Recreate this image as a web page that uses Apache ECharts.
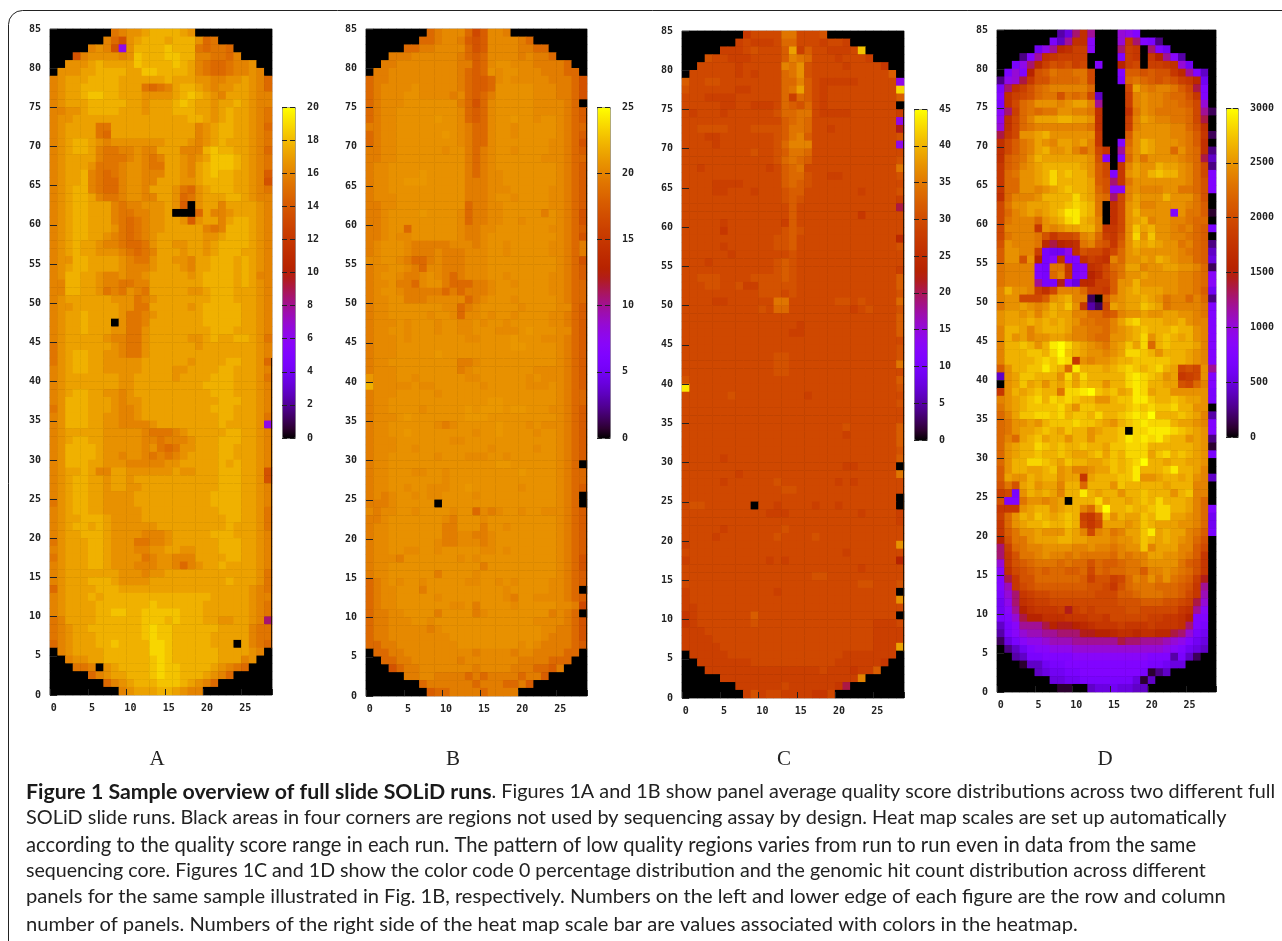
<!DOCTYPE html>
<html>
<head>
<meta charset="utf-8">
<style>html,body{margin:0;padding:0;background:#fff}#c{width:1282px;height:941px}</style>
<script src="https://cdn.jsdelivr.net/npm/echarts@6/dist/echarts.min.js"></script>
</head>
<body>
<div id="c"></div>
<script>
// Each string is one row of panels, top row (84) first; 29 columns.
// Each character is a colour level (0 = black ... z = top of the scale).
const levelKey = "0123456789abcdefghijklmnopqrstuvwxyz";
const scaleMaxA = 20, scaleMaxB = 25, scaleMaxC = 45, scaleMaxD = 3000;
const scaleStepA = 2, scaleStepB = 5, scaleStepC = 5, scaleStepD = 500;
const columns = Array.from({length: 29}, (_, i) => String(i));
const rowsLabels = Array.from({length: 85}, (_, i) => String(i));
const panelNames = ["A", "B", "C", "D"];
// Panel B varies very little, so its main levels are closer together.
const panelBFineValues = {r: 19.7, s: 20.3, t: 20.7, u: 21.0};

const panelA = [
// 84
"00000 000rs ttuvv vvut0 00000 0000","00000 00sqo tuvvv uvvvt qr000 0000","00000 stsob tvvvv wvvvr qrrq0 0000","000os tttts twvvv wwvvs srrqs 0000","00ttt uvuuu uwvvv vwvus rqqrs st00",
// 79
"0tttu uvvvv uuwwv vvvus rqqrs sts0","stuuu vvvvu uuuuu vuuut tsstt utsq","stuuv vvvvu uurqr suvvu tsttu utsq","stuuv wwvvu uuttt tuvwv utsuu utss","stuuu vvvvv uutuu uvwvu utuuv utss",
// 74
"ssttu vvvvu uutuu uvvvu utuvu utsr","sttuu uuuuu uuuuu uuuvv utuvu utsr","stuuu urruu uuuuu uuuus tuvvu utsq","stuuu urquu uuuuu uuuus tuvvu utsr","stuvv utstt ttttt uuuts tuvuu utsr",
// 69
"stuvv usrrs stssu uusss vwvvu utsq","stuuu usrrr stsrs uutst uwwwv utsr","stuuu trrrs ttsrr uutsu vwwwv utsr","stuuv srqrs ttsss uutsu vwvvu utsp","stuuv srqqs ttssu uuttu vvvvu utso",
// 64
"stuvv srqqs ttsuu utrqt uvvvu utsr","stuvv usrrs ttssu utqrt uuuvv utss","stuvv uuusr ssttt utp0t uusuu uuts","stuvv uuusr rsstt u000q usstu uuts","stuvv uuusr qrstt uutpt uusuv vuts",
// 59
"stuvv uuutr qrstt uuuuu srsvv vuts","stuvv uutsr qrstu uuuuu ttuvv vuts","stuvu utssr qqrtu uttuu tuvvv vuts","stuvu uttts rqrsu uutuu tuvvv uuts","sttvv uuuut srrtu uttsu uvvvu vuts",
// 54
"stuvv uuuut ssstu uutsu uvvvu vuts","stvvu utsst sstuu uuutu vvvvu vuss","ssvvu utssr rssuu uuuuu vvvvu vuts","ssvvu utrsr tsruu uuutt uvvvu uuts","stuuu uuutt trstu uuuuu uvvvu uuts",
// 49
"sttuu uuuut trruu uuutu vvvvv uuts","stuuv uuuut rrstu uuuuu vvvvv uuts","stuuv uuu0t rrsuu uuuuu vvvvv uuts","stuuv uuutt rrtuu uuuuu uvvvu uuts","stuuu uutss rrtuu uuutt uvuuv vutr",
// 44
"rtuuu uuuts rrtuu uuuut uuuuu uuts","rtuvv uutts rrtuu uuuuu uuuuu uuts","rtuvv uuttt ttuuu uuutu uuuvv uutq","stuvv uuttt ttuuu uttuu uuvvu uuts","stuuu uuuut tuuuu utuuu uvvvu uutr",
// 39
"stuuu uuuut tuuuu uuuuu vvvvu uuts","stuvv uutts tuuuu uuuuu uvvvu uuts","stvvv uuuts ttuuu uuuuu uuvvv uuts","rtvvv uuuts stuuu uuuuu uvvvu uuts","stvvv uutts stuuu uuuuu uuvvu uutr",
// 34
"stvvv uutts ssstu uuuuu uuvuu uutb","stuuu uuttt ttsrr rstuu uuuvv uuts","stuvv uuttt ttssr ssstu uuvvv uuts","stvvv vuttt ttstr qrttu uuvvu uuts","stvvv vutts ttsrs rstuu uuvvu uuts",
// 29
"stvvv uuttt sssss ttuuu uuvuv uuts","stuuv ussuu ttttt tuttu uuvvv uuto","stuvv uutuu tuuuu uuuuu uuvvv uuto","stuvv uutuu ttuuu uuuuu uuvvv uuts","stuvv uuttt tuuuu uuuuu uvvvv uuts",
// 24
"rtuvv uuttt tuuuu uuuuu uvvvv uuts","stuvv uuttt ttuuu uuuuu uuvvv uutr","stuuv vvutt ttuuu uuuuu uuuvv uutr","stuvv uvutt ttttu uuuuu uuuvu uutr","stuuv vvutt ttsss tuuuu uvvvu uuts",
// 19
"rtuuu vvutt trrss tuuuu uuvvv uuts","stuuu vvutt tsstt uuttu uuvvv uuts","rtuuu vvutt ttrst tsssu uuuvv uuts","stuuu vvutt tssst tsqst uuvuu uuts","stuuu uuuut ttstt uuuuu uuuuu uutr",
// 14
"stuuu vvvut tttuu uuuuu uuuvu uutr","qtuuu uvvvu uuuuu uuuuu uuuuu utsr","stuuu vuvvv vvvvv vvvvv vuuuu utss","stuuu uvvvv vvvwv vvvvv uuuuu utsr","stuuu uvvww vvwww wwvvv uuuuu utsr",
// 9
"rsuuu uvvvv vvwww vwvvv uuttu utsf","rstuu vvvvv vvwxw wvvvv vvuuu usrr","rstuu uvvvv vvwxw wvvvv vuuuu usrr","qstuu uvvwv vvvxx wvvvv vuuu0 usrq","0stuu uuvvv vvvxx wvvvv vvuuu uts0",
// 4
"00stt uuvvv vvvwx wvvvv vvuuu st00","000rr s0tuv vvvwx wwvvv vutsr q000","00000 qstuu vvvwx wwvvv utsq0 0000","00000 00qst uvvvw wwvut sq000 0000","00000 0000s tuuuv vutss 00000 0000"
];

const panelB = [
// 84
"00000 000qr sssqn pssr0 00000 0000","00000 00qqr ssrpo pssss rq000 0000","00000 qqrrs sssqo pssss rrqq0 0000","000rr rssss ssrqp qssss rsrrq 0000","00rrs sssss ssrrp qstts ssrrr rq00",
// 79
"0rrss sssss ssrqp qtstt sssrr rqq0","qrrss sssss ssrqp pqsts ssssr rrqo","qrsss stsss ssrqp pqttt ttsss rrqo","qrsss ttsss srsqp qrttt ttsss rrqo","qrsss ttttt ttrqo qsttt ttsss srq0",
// 74
"qrsst ttttt ttsqp qsttt ttsss srqp","qrsst ttttu ttsqp qsttu ttstt srqp","rrsst ttttt ttsrq qstts ttttt srqq","qrsst ttttt utsrq qstts ttttt srqp","qrsst ttttt ttsrq qsttt tttts srqo",
// 69
"rrsst ttttt sttrq rstts tttts srqp","rrsst ttttt tttrq rsttt tttss srqq","rsstt ttttt tttrq rsttt ttttt srqp","rsstt ttutt tttrq rsstt ttttt srqp","rsstt uuutt tttrr rsstt ttttt srqp",
// 64
"rsstt ttttt tttrr rssst tttts srqp","rssst ttttt tttrr rstts tttts srqp","rrsst ttttt tttqr rsstt tttts srqp","rrstt ttutt ttsqr rsstt tttrt srqo","rrstt ttttt ttsqr rsstt stttt srqo",
// 59
"rrstt qtttt ttsrr ssttt tttts srqp","rrsts stttt ttsrr stttt ttttt srqo","rsttt srrrr rsssr sttst tttts srqr","rsttt srrrs rrrss sttst tttts srqr","sstts rqqrs rrrss stttt ttttt srqo",
// 54
"rsstt srqss rrrss stttt ttttt srqp","rstts rrsts rqrss sttst tttts srqp","rsstr rqstt rqqqr rstts tttts srqq","rstts rrrrr qrqrr rsttt tttts srqq","rsstt rrrss sssqr sttts ttttt srqq",
// 49
"rsstt ttttt ssqrs ttttt stttt ssqp","rsstt tttst tsqss tstts tttts srqp","rssst sttts ttsst sttst tttts srqp","rsstt sttts ttsst ttsss tuttt ssqp","rssst stttt tttss ttttu tttss srqp",
// 44
"rssst ttttt ttttt ttttu utttt srqp","rssst ttttu ttttt ttttt ttttt srqp","rsstt ttttt ttrrs ttttt ttttt srqp","rssst ttttt ttrst ttttt ttsss srqp","ussst tsttt tttss ttttt tstss srqp",
// 39
"vssss stsst ttttt stttt tssst srqp","rssst tttts ttttt ttttt ttttt srqq","rsstt ttttt ttttt tuutt ttttt srqq","rsstt ttstt tttut uuutu uttts srqp","rssst utttt tttuu utttt ttttt srqp",
// 34
"rsstt tttts rsttt ttutt tstss srqp","rsstt utttt tttts ttutt ttstt srqp","rssst ttttt tsstt ttttt ttttt srqp","rssst tsttt ttttt tsttt ttstt srqp","rsstt tttts tttss sttst ttttt srqp",
// 29
"rsstt ttttt ttttt ttuut ttttt srq0","rsstt tsstt stttt ttttt utttt srqq","rsstt ttttt stttt ttttt ttttt srqq","rsstt sttss sttut ttttt stttt srqp","rsrst tstss tttts ttttt ttttt srq0",
// 24
"rrrst tttt0 ttttt ttttt ttttt srq0","srsst tsttt tsttq srstt sttss srqp","rrstt ttttt srttt stttt ttttt srqp","rsstt ttttt rrttt rttst ttttt srqp","rsstt ttttt rrssr rsttt ttttt srqp",
// 19
"rsstt tttts rrsss rsttt ttttt srqp","rsstt sstts ttttt sstst ttttt srqp","rsssr ttttt ttsts ttttt ttttt srqo","rsstt ttttt ttttt rtttt ttttt srqo","rsstt ttttr tttts ttttt ttttt srqp",
// 14
"qrsts ttstt tttss ttsts tttts srqp","qrsst ttrtt ttttt tttst tttts srq0","qrsst tttts ttttt tttsr ttsss srqp","qrsst ttttt tsstr tttts ttttt ssrn","qrrss ttttr ttttr stttt ttttr srq0",
// 9
"qrrss sttst ttttt ttttt ttsss srqo","qrrss sssrs ttttt ttttt tttss rrqo","qrrss sssss stttt ttttt tttsr rrqo","qqrrs sssss ssttt ttttt stsrr rrqp","0qqrr sssss ssssr ssssr ssrrr rqq0",
// 4
"00qqr rssss ssrss sssss rrrrq qq00","000oq rrsss ssssr ssssr rrqqp r000","00000 rrssr rrrqr qrrrr qrrp0 0000","00000 00qrr rrrrq rrrqq rp000 0000","00000 000pq qrrrr qrrrr 00000 0000"
];

const panelC = [
// 84
"00000 000ln nnnrr nnno0 00000 0000","00000 00mnm mmnqq nnnmn nm000 0000","00000 mmmno nnnpu mpnnm mmnw0 0000","000on nmmmn nnnps rqnnn mnnnm 0000","00nnn nnmnn nnnsr tonnn nmnnn nl00",
// 79
"0nnnn nnmnm nnnqr tonnn nnnnn nnp0","pnnoo nnnnn nnnqq spnmm mmmnn nnnb","onnnn nnmmn nnnqr upnmn nnnnn nnnx","nnnmm mmnnn nnnqm qpnmn nnnnn nnnp","nnnnn mmnnm mmnqp oqnmn nnnnn nnn0",
// 74
"nmnnn mnnnn nnoqq rrnmm mmnnn nnnm","nnnnn nnnnn nnnpq rqnnn nnnnn nnnb","nnooo onnno ooopr rqnnm nnnnn nnnh","nnnmm nnnnn nnopr spnnn nnnnn nnno","nnnnm nnnnn nnoqs ssnnn nnnnn nnnb",
// 69
"nnnnn nnnno nnopr rqnnn nnnnn nnnn","nnnnn nnnnn nnoqr qpnnn nnnnn nnno","nnmnn nnnnn nmnpq rnnnn nnnnn nnnr","nnnnn nnnnn nnnpq qonnm mnnnn nnno","nnnnm mmmnn nnnpq ponnn nnnnn nnnn",
// 64
"nnnnm mnnnm nnnop pnnnn nnnmn nnno","nnnnn nnnnn nnnop onnnn nnnnn nnnm","nnnnn nnnnn nnnnp nnnnn nnnnn nnng","nnnnn nnnnn nnnnp nnnnn nnnln nnnn","nnnnn mnnnn nnnmp nnnnn nnnnn nnnn",
// 59
"nnnnn lnnnn nnnop onnnn nnnnn nnnn","nnnnn nnnnn nnoop nnnnn nnnnn nnnj","nnnnn mnnnn nnoop nnnnn nnnnn nnno","nnnnn nmnnn nnnno nnnnn nnnnn nnnn","nnnmn nnnnn nnopo nnnnn nnnnn nnnn",
// 54
"nnnnn nnnnn nnopo nnnnn nnnnn nnnm","nnooo nnnno ooopo nnnnn nnnnn nnnp","nnnoo nnomm ooooo nnnnn nnnnn nnnp","nnnnn nnnnn ooono nnnnn nnnnn nnno","nnnnm mnnnn nnrrn nnnnn oonon nnnq",
// 49
"nnnnn nnnnn onqqn nnnnn nnmno nnno","nnnnn nnnnn nnnnn nnnnn nnnnn nnnp","nnnnn nnnnn nnnnn mnnnn nnnnn nnnp","nnnnn nnnnn nnnnm mnnnn nnnnn nnnp","nnnnn nnnnn nnnnn nnnnn nnnnn nnnn",
// 44
"nnnnn nnnnn nnnnn nnnnn nnnnn nnno","nnnnn nnnnn nnoon nnnnn nnnnn nnno","nnnnn nnnnn nnoon nnnnn nnnnn nnnr","nnnnn nnnnn nnoon nnnnn nnnnn nnnn","onnnn nnnnn nnnnn nnnnn nnnnn nnnp",
// 39
"ynnnn nnnnn nnnnn nnnnn nnnnn nnno","nnnnn nonnn nnnnn nmnnn nnnnn nnnn","nnnnn nnnnn nnnnn nnnnn nnnnn nnno","nnnnn nnnnn nnnnn nnnnn nnnnn nnnn","nnnnn nnnnn nnnnn nnnnn nnnnn nnnn",
// 34
"nnnnn nnnnn nnnnn nnnnn nonnn nnnp","nnnnn nnnnn nnnnn nnnnn nmnnn nnnp","nnnnn nnnnn nnnnn nnnnn nnnnn nnnp","nnnnn nnnnn nnnnn nnnnn nnnnn nnno","nnnnn mnnnn nnnnn nnnnn nnnnn nnnp",
// 29
"nnnnn nnnnn nnnnn nnnnn nmmnn nnn0","nnnnn nnmnn nnnnn nnnnn nnnnn nnnr","nnnnn mnnnn nnonn nnnnn mnmnn nnnn","nnnnn nnnnn nnnoo nnnnn nnnnn nnnn","nnnnn nnnnn nnnnn nnnnn nnnnn nnn0",
// 24
"noonn nnnn0 nnmnn nnmnn mnnnn nnn0","nnnnn nnnnn nmmmn nnnnn nnnmn nnnm","nnnnn nnnnn nnnnn nnnnn nnnnn nnnm","nnnnn mnnnn nnnon nnnnn nnnnn nnnn","nnnnm nnnnn nnonn nnonn nnnnn nnnn",
// 19
"mnnnn nnnnn nnnnn nnnnn nnnnn nnnt","nnnnn nnnnn nnnnn nnnnn nmnnn nnnn","mnnnn nnnnn nmnmn nnnnn nnnnn nnni","nnnnn nnnnn nnnnn nnnnn nnnmn nnnn","nnnnn nnnnn nnnnn nnoon nnnnn nnnn",
// 14
"nnnnn nnnnn nnnnn nnnnn nnnoo nnno","mnnnn nnnnn nnmnn nnnnn nnnnn nnn0","mnnnn nnnnn nnnnn nnnnn nnnnn nnnt","mmnnn nnnnn nnnnn nnnnn nnnnn nnnn","lmnnn nnnnp nnnnn nnnnn nnnnn nnn0",
// 9
"lmnnn nnnno nnnnn nnnnn nnnnn mmmn","mmmnn nnnnn nnnnn nnnnn nnnnn mmmm","mmmmn nnnnn nnnnn nnnnn nnnnn mmmm","mmmmm nnnnn nnnnn nnnnn nnnnn mmmu","0mmmm mnnnn nnnnn nnnnn nmmmm mmm0",
// 4
"00mmm mmmmn nnnnn nnnnn mmmmm ml00","000mm mmmmm mmmmm mmmnm mmlmm p000","00000 mmmmm mmmmm mmmmm mmms0 0000","00000 00mmm mmmnm mmmmm lg000 0000","00000 000mo mnnmm mmlln 00000 0000"
];

const panelD = [
// 84
"00000 00046 fke00 0cb90 00000 0000","00000 0085e kka00 0clf9 83000 0000","00000 7bejk mma00 0fml0 f9700 0000","00039 eklmm mm000 09ml0 liea4 0000","008bf jmono mn090 0imn0 mmlkc 7000",
// 79
"08c9i oprqq rrn00 09ppo poolj e950","3bcgl ooqqq qrn00 08qrq popom lj70","8fkmo qrsss ssq00 00nus rssrp ng90","9kmno qrror qrn50 00mst ssrqq ol90","8knqr tttst uuse0 00mst ssrrq pnc0",
// 74
"afmqr qrrtt ssrk0 00krt srrrr qne2","bknqs uuuvv uutk0 00msu tssrr qng0","cknqr sssss ssrk0 00mst tttss qok0","glntt uvttt tttl0 00ptt tttss rpl2","knprs utsuu tusl0 09qtv uttts rpk0",
// 69
"knprs uvttu sqsnl 0ertv uttqt rqk3","kpqrt vuuuu uuto9 09qtr tttts rqg5","lpqst uvvvv vutpn 0lsut tvuut sqn3","lqrtt uvxvw vvtpn 9ltut vwvvt sqn9","lqqtt uvxvv vvupo flrtt ttttt sqo9",
// 64
"lqqtt stuvw vvuqo aasts ssttr rqo9","kqsss tvvvv xvurq fnsut ttvtt tro0","nrttu uuvvw xwvr0 kntus stttt srp0","nqstu tuvwy ywvr0 kntvt ttt9t rrp1","nrsss qtuvx yvus0 kntuv sttss rqq0",
// 59
"nssss ltstu uvvsl lntwu vttsr sqp8","nrsss rolnn ostqm lotxt wttss rqp0","otsss rjgij krspo lptvu vuttr sqp3","pttss m877b konnl nqtut tttts rqp5","pttot i8ak9 9kmlk sqttu tvuts sqp6",
// 54
"rssss 98rrl 8akln qruus ttuut tsq2","rssss 98qsl 8aikn prttu tttts srqa","rssss e88h9 6jjmm pttvt tttts srqa","svtts mknss sqmml ptuvu uutts srp7","sttnn nptuv ss20p stuuv utrss qsq3",
// 49
"rttut stvuw tl42n utuuw vurss ssr9","tuutu suvuu ssqqo psttu ttuut tsr9","tuuuv uvuvu trrqq suwxv vvuuv tss9","svvus uvvvu ssrrq stuvw vvvwv vts9","svtus ttuut ssrqq ttuvx tvwvu vts9",
// 44
"svvwv tvyzx vutsr tuwux qvwvv vus9","svvvw wvxzw vutts tuxxw vtvvv uts9","svvvv wxwyx ltstt uvvww wwwvv uts9","ptvvw wywvq yvvvu vwxwv wxvun onte","5tuww vvvtx uxvvv vvxyx wvtul mnt9",
// 39
"0tuwu vtvuw uwvvt vvxyx vvuuo nqs9","ltvuv wvvrx xyzwv wuvyx uvvtt ttt8","stuvw xvxwx wvvtt vwwyy wvvwv uut8","rtuvw wwwxv twwvv vvwxw xwwxv vtt0","qsuww xxwxv wwvxv vwxyx zvvvw vus4",
// 34
"qrttu tvwww xwwvu tvwxy xxxvu uts9","qrtuu vwvuw vvtuv vw0xx yyyxw vut9","qsquv wuvvt vvtvv vwyxy xywvv tut3","qtuvv xwvwv vwvvu wwxxx vvvvv vut1","qtuvv wvvwv uuvwu wvxxx uwxvw vut8",
// 29
"qtvvx xwvuw vvuuv wvwxz vvuvv uut0","ptvvu uvwtu sstuu wvwyv vvwyv vus0","puttv uvvtu uluvv vwwyt tuvvu vts5","orouv tuusv vqvvv twvvv vvuvv vss0","mn8tv uvusv vyvuv vtvvw vvvtv wss0",
// 24
"o99rt tstu0 vvvxu vvuvw vxvvv usq0","llltu vvtuv vsqvz vvwvv wxxvv usq9","mqtvu wvuvw vmlow tvuuw vxxuu tsq7","lqtuv vwvvw vnlnu uutuw vuuut tsq7","lprtt utttv usnst rsuuw yuvuu srp8",
// 19
"iorrt uuuvv uuttt sttuw vuvut sqo0","fmqrs stttt sstss rsttw suuus spn0","florr stssr srrrr qsrss uutts rpl0","clopq rrrqr qqoqp pqrrs ttttr pol0","aknop qpqqp pqnqp qqrrp sstsr qol0",
// 14
"9gloo qqqqq qpmoo mnqsr trtrq pmh0","9dlno ppppp ppoon loqrr rqqqp ole0","8cflm nnooo ooonn nppqr rrqqp nld0","7bfkl mmnnn nnnnn nooop ppoon mgc0","7aeik lllmh mnmnn nnoon nnnnl kea0",
// 9
"89cgi ikkkl llmml nnnnn mmllk i990","58aee egihh ijkll lmlll mlllk f980","48acd deeff fhhii jkkjk kjjgf c870","268ab bcddd eeeee egffe eedcb 9760","03579 aabbb ccccc ccccc ccba9 7650",
// 4
"00458 89999 aaaaa aaaaa 99948 5200","00015 57889 99999 99999 88766 0000","00000 56778 89999 99998 13500 0000","00000 00667 78888 88861 50000 0000","00000 00011 00566 76655 00000 0000"
];

const captionBold = "Figure 1 Sample overview of full slide SOLiD runs";
const captionLines = [
  ". Figures 1A and 1B show panel average quality score distributions across two different full",
  "SOLiD slide runs. Black areas in four corners are regions not used by sequencing assay by design. Heat map scales are set up automatically",
  "according to the quality score range in each run. The pattern of low quality regions varies from run to run even in data from the same",
  "sequencing core. Figures 1C and 1D show the color code 0 percentage distribution and the genomic hit count distribution across different",
  "panels for the same sample illustrated in Fig. 1B, respectively. Numbers on the left and lower edge of each figure are the row and column",
  "number of panels. Numbers of the right side of the heat map scale bar are values associated with colors in the heatmap."
];

// Gnuplot's default pm3d palette (rgbformulae 7,5,15), one stop per level.
function pm3d(f) {
  const h = v => Math.round(255 * Math.max(0, Math.min(1, v))).toString(16).padStart(2, "0");
  return "#" + h(Math.sqrt(f)) + h(f * f * f) + h(Math.sin(2 * Math.PI * f));
}
const palette = levelKey.split("").map((_, i) => pm3d(i / 35));

function decode(rows, max, fine) {
  const out = [];
  rows.forEach((r, i) => {
    const s = r.replace(/ /g, "");
    for (let c = 0; c < 29; c++) {
      const ch = s[c] || "0";
      const lv = Math.max(0, levelKey.indexOf(ch));
      const v = fine && fine[ch] !== undefined ? fine[ch] : lv / 35 * max;
      out.push([c, 84 - i, v]);
    }
  });
  return out;
}

const panels = [
  {rows: panelA, max: scaleMaxA, step: scaleStepA, g: [50, 29, 222, 666], b: [282, 107, 13, 331], edge: [358, 649]},
  {rows: panelB, max: scaleMaxB, step: scaleStepB, g: [366, 29, 221, 667], b: [597, 107, 13, 331], fine: panelBFineValues, edge: [108, 650]},
  {rows: panelC, max: scaleMaxC, step: scaleStepC, g: [682, 31, 222, 667], b: [914, 109, 13, 331], edge: [108, 652]},
  {rows: panelD, max: scaleMaxD, step: scaleStepD, g: [997, 30, 219, 662], b: [1226, 108, 12, 329]}
];

const tickFont = {fontFamily: "DejaVu Sans Mono", fontWeight: "bold", fontSize: 10, color: "#222"};
const grid = [], xAxis = [], yAxis = [], series = [], visualMap = [];

panels.forEach((p, i) => {
  const gi = grid.length;
  grid.push({left: p.g[0], top: p.g[1], width: p.g[2], height: p.g[3], show: true, borderColor: "#999", borderWidth: 1, backgroundColor: "#000"});
  xAxis.push({
    type: "category", gridIndex: gi, data: columns, z: 5,
    axisLine: {show: false},
    axisTick: {show: true, inside: true, length: 6, interval: 4, lineStyle: {color: "#222"}},
    axisLabel: Object.assign({interval: 4, margin: 8}, tickFont),
    splitLine: {show: false}
  });
  const catY = yAxis.length;
  yAxis.push({type: "category", gridIndex: gi, data: rowsLabels, show: false});
  yAxis.push({
    type: "value", gridIndex: gi, min: 0, max: 85, interval: 5, position: "left", z: 5,
    axisLine: {show: false},
    axisTick: {show: true, inside: true, length: 7, lineStyle: {color: "#222"}},
    axisLabel: Object.assign({margin: 9}, tickFont),
    splitLine: {show: false}
  });
  series.push({
    type: "heatmap", xAxisIndex: xAxis.length - 1, yAxisIndex: catY,
    data: decode(p.rows, p.max, p.fine), progressive: 0, animation: false,
    emphasis: {disabled: true}, silent: true,
    itemStyle: {borderWidth: 0}
  });
  visualMap.push({
    type: "continuous", seriesIndex: i, min: 0, max: p.max, calculable: false, hoverLink: false,
    left: p.b[0], top: p.b[1], itemWidth: p.b[2], itemHeight: p.b[3], padding: 0,
    showLabel: false, text: null, inRange: {color: palette},
    borderColor: "#888", borderWidth: 1
  });
  // scale-bar ticks and labels
  const bi = grid.length;
  grid.push({left: p.b[0], top: p.b[1], width: p.b[2], height: p.b[3], show: false});
  xAxis.push({type: "value", gridIndex: bi, show: false, min: 0, max: 1});
  yAxis.push({
    type: "value", gridIndex: bi, min: 0, max: p.max, interval: p.step, position: "left", z: 6,
    axisLine: {show: false}, splitLine: {show: false}, axisLabel: {show: false},
    axisTick: {show: true, inside: true, length: 5, lineStyle: {color: "#222"}}
  });
  yAxis.push({
    type: "value", gridIndex: bi, min: 0, max: p.max, interval: p.step, position: "right", z: 6,
    axisLine: {show: false}, splitLine: {show: false},
    axisLabel: Object.assign({margin: 12, formatter: v => String(v)}, tickFont),
    axisTick: {show: true, inside: true, length: 5, lineStyle: {color: "#222"}}
  });
});

const capFont = "Lato";
const capBoldSize = 21.3;
const capSizes = [19.8, 19.9, 20.2, 19.6, 20.1, 20.15];
const capY = [792, 818, 845, 871, 897, 924];
const graphic = [
  {type: "rect", silent: true, shape: {x: 8.5, y: 10.5, width: 1300, height: 960, r: [14, 0, 0, 0]}, style: {fill: null, stroke: "#222", lineWidth: 1}, z: -1}
];
panels.forEach(p => {
  if (!p.edge) return;
  const x = p.g[0] + p.g[2] - 0.5;
  graphic.push({type: "line", silent: true, z: 20, shape: {x1: x, y1: p.edge[0], x2: x, y2: p.edge[1]}, style: {stroke: "#2a1400", lineWidth: 1}});
});
[157, 453, 784, 1105].forEach((x, i) => graphic.push({
  type: "text", silent: true, x: x, y: 759,
  style: {text: panelNames[i], fill: "#222", font: "21px 'Liberation Serif'", textAlign: "center", textVerticalAlign: "middle"}
}));
captionLines.forEach((t, i) => graphic.push({
  type: "text", silent: true, x: 26, y: capY[i],
  style: i === 0
    ? {text: "{b|" + captionBold + "}{n|" + t + "}", textVerticalAlign: "middle",
       rich: {b: {font: "bold " + capBoldSize + "px " + capFont, fill: "#1a1a1a"}, n: {font: capSizes[i] + "px " + capFont, fill: "#222"}}}
    : {text: t, fill: "#222", font: capSizes[i] + "px " + capFont, textVerticalAlign: "middle"}
}));

const chart = echarts.init(document.getElementById("c"), null, {renderer: "canvas"});
chart.setOption({animation: false, backgroundColor: "#fff", tooltip: {show: false}, grid, xAxis, yAxis, visualMap, series, graphic});
</script>
</body>
</html>
